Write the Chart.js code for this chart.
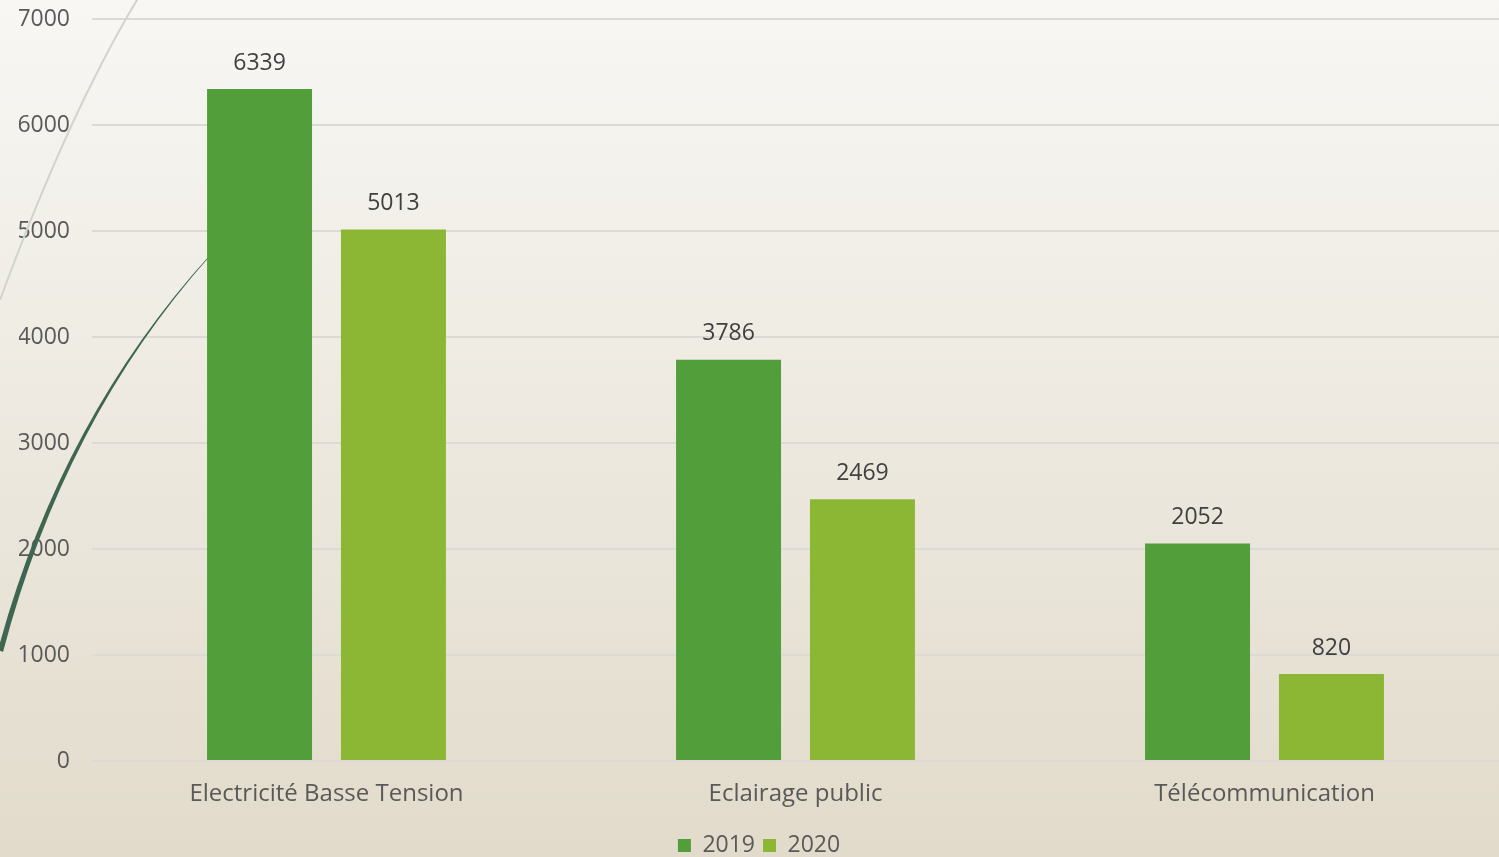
<!DOCTYPE html>
<html>
<head>
<meta charset="utf-8">
<script src="https://cdn.jsdelivr.net/npm/chart.js@4.4.1/dist/chart.umd.min.js"></script>
<style>
  html, body { margin: 0; padding: 0; width: 1499px; height: 857px; overflow: hidden; background: #efece4; }
  #wrap { position: relative; width: 1499px; height: 857px; }
</style>
</head>
<body>
<div id="wrap"><canvas id="c" width="1499" height="857"></canvas></div>
<script>
const categories = ["Electricité Basse Tension", "Eclairage public", "Télécommunication"];
const seriesNames = ["2019", "2020"];
const values2019 = [6339, 3786, 2052];
const values2020 = [5013, 2469, 820];
const colors = ["#529e3a", "#8bb734"];

const FONT = "'Open Sans', 'DejaVu Sans', sans-serif";

const backgroundPlugin = {
  id: 'bg',
  beforeDraw(chart) {
    const ctx = chart.ctx;
    const w = chart.width, h = chart.height;
    ctx.save();
    const g = ctx.createLinearGradient(0, 0, 0, h);
    g.addColorStop(0, '#f8f7f4');
    g.addColorStop(1, '#e2dbcb');
    ctx.fillStyle = g;
    ctx.fillRect(0, 0, w, h);
    ctx.restore();
  },
  beforeDatasetsDraw(chart) {
    // decorative theme arcs in the background
    const ctx = chart.ctx;
    ctx.save();
    ctx.strokeStyle = '#cfd4cd';
    ctx.lineWidth = 2;
    ctx.beginPath();
    ctx.moveTo(140, -5);
    ctx.quadraticCurveTo(70, 110, 0, 300);
    ctx.stroke();
    ctx.fillStyle = '#3f6650';
    ctx.beginPath();
    ctx.moveTo(210, 255);
    ctx.quadraticCurveTo(60, 420, -2, 650);
    ctx.lineTo(3, 652);
    ctx.quadraticCurveTo(64, 420, 210, 256);
    ctx.closePath();
    ctx.fill();
    ctx.restore();
  }
};

const valueLabelPlugin = {
  id: 'valueLabels',
  afterDatasetsDraw(chart) {
    const ctx = chart.ctx;
    ctx.save();
    ctx.font = "23px " + FONT;
    ctx.fillStyle = '#404040';
    ctx.textAlign = 'center';
    ctx.textBaseline = 'middle';
    chart.data.datasets.forEach((ds, i) => {
      const meta = chart.getDatasetMeta(i);
      meta.data.forEach((el, j) => {
        ctx.fillText(String(ds.data[j]), el.x, el.y - 26);
      });
    });
    ctx.restore();
  }
};

new Chart(document.getElementById('c'), {
  type: 'bar',
  data: {
    labels: categories,
    datasets: [
      { label: seriesNames[0], data: values2019, backgroundColor: colors[0], categoryPercentage: 0.571, barPercentage: 0.784 },
      { label: seriesNames[1], data: values2020, backgroundColor: colors[1], categoryPercentage: 0.571, barPercentage: 0.784 }
    ]
  },
  options: {
    responsive: false,
    animation: false,
    devicePixelRatio: 1,
    layout: { padding: { left: 19, right: 0, top: 19, bottom: -10 } },
    plugins: {
      legend: {
        position: 'bottom',
        labels: {
          boxWidth: 13, boxHeight: 13, padding: 8,
          color: '#595959',
          font: { family: FONT, size: 23 }
        }
      },
      tooltip: { enabled: false }
    },
    scales: {
      x: {
        grid: { display: false },
        border: { display: false },
        ticks: { color: '#595959', font: { family: FONT, size: 24 }, padding: 11 },
        afterFit(scale) { scale.height = 65; }
      },
      y: {
        min: 0, max: 7000,
        grid: { color: '#dcdad5', lineWidth: 2, drawTicks: false },
        border: { display: false },
        ticks: {
          stepSize: 1000, color: '#595959', font: { family: FONT, size: 23 }, padding: 22,
          callback: (v) => String(v)
        },
        afterFit(scale) { scale.width = 73; scale.paddingTop = 0; scale.paddingBottom = 0; }
      }
    }
  },
  plugins: [backgroundPlugin, valueLabelPlugin]
});
</script>
</body>
</html>
